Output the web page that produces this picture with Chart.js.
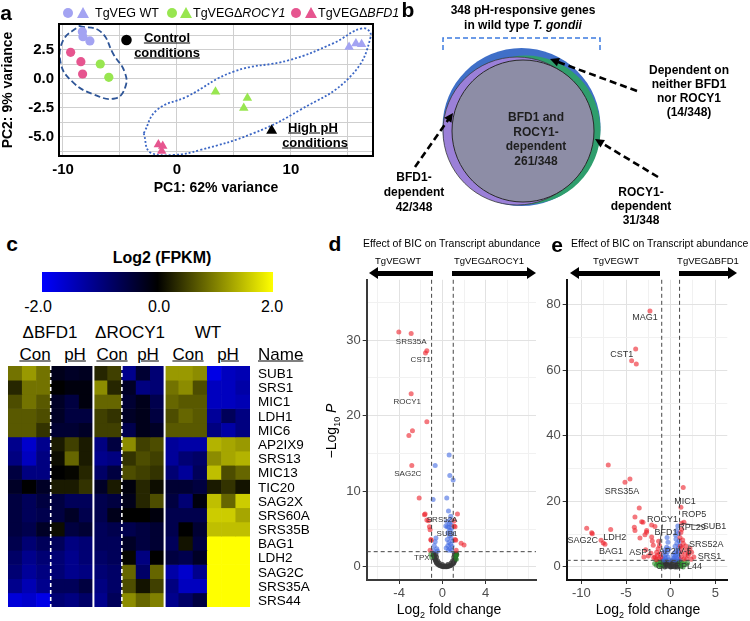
<!DOCTYPE html>
<html>
<head>
<meta charset="utf-8">
<script src="https://cdn.jsdelivr.net/npm/chart.js@4.4.1/dist/chart.umd.min.js"></script>
<style>
body{margin:0;background:#fff;font-family:"Liberation Sans",Arial,sans-serif;}
#page{position:relative;width:750px;height:621px;overflow:hidden;}
canvas{position:absolute;}
.t{position:absolute;white-space:nowrap;line-height:1;transform:translate(-50%,-50%);color:#000;}
.l{transform:translate(0,-50%);}
.b{font-weight:bold;}
.u{text-decoration:underline;}
</style>
</head>
<body>
<div id="page">
  <canvas id="pca" width="380" height="200" style="left:0;top:0"></canvas>
  <canvas id="venn" width="370" height="230" style="left:380px;top:0"></canvas>
  <canvas id="heat" width="242" height="241" style="left:8px;top:366px"></canvas>
  <canvas id="volD" width="240" height="351" style="left:300px;top:270px"></canvas>
  <canvas id="volE" width="230" height="351" style="left:520px;top:270px"></canvas>
</div>
<script>
// ---------- DATA ----------
// a: PCA
const pcaWTcon   = [[-8.3,4.08],[-8.25,3.65],[-7.64,3.28]];
const pcaWTph    = [[15.1,2.75],[15.7,3.05],[16.2,3.0]];
const pcaROCYcon = [[-6.73,1.29],[-5.98,0.14]];
const pcaROCYph  = [[3.38,-1.1],[6.18,-1.65],[5.86,-2.5]];
const pcaBFDcon  = [[-9.33,2.3],[-8.43,1.49],[-8.28,0.43]];
const pcaBFDph   = [[-1.63,-5.65],[-1.25,-5.78],[-1.34,-6.2]];
const pcaKeyCon  = [[-4.43,3.36]];
const pcaKeyPh   = [[8.31,-4.45]];
const ctrlOutline = [[-8.6,4.57],[-6.7,4.08],[-5.54,2.07],[-4.6,0.63],[-4.52,-0.66],[-5.39,-1.67],[-7.4,-1.3],[-9.18,-0.23],[-10.2,1.35],[-10.0,3.3],[-8.6,4.57]];
const phOutline   = [[-2.92,-4.68],[-1.75,-2.67],[0.87,-1.52],[4.96,0.63],[9.91,1.64],[13.7,3.07],[16.3,4.37],[17.0,3.65],[15.2,0.2],[10.8,-2.67],[6.7,-4.68],[2.04,-6.12],[-0.29,-6.55],[-2.33,-6.35],[-2.92,-4.68]];
const pcaXGrid  = [-10,-5,0,5,10,15];
const pcaXTicks = [-10,0,10];
const pcaYGrid  = [-6.25,-5,-3.75,-2.5,-1.25,0,1.25,2.5,3.75];
const pcaYTicks = [-5,-2.5,0,2.5];

// b: Venn
const vennNames  = ['BFD1 and ROCY1-dependent','BFD1-dependent','ROCY1-dependent','Dependent on neither'];
const vennCounts = [261,42,31,14];

// c: heatmap, log2 FPKM (z-scored)
const heatGenes = ['SUB1','SRS1','MIC1','LDH1','MIC6','AP2IX9','SRS13','MIC13','TIC20','SAG2X','SRS60A','SRS35B','BAG1','LDH2','SAG2C','SRS35A','SRS44'];
const heatCols  = ['B-C1','B-C2','B-C3','B-P1','B-P2','B-P3','R-C1','R-C2','R-P1','R-P2','R-P3','W-C1','W-C2','W-C3','W-P1','W-P2','W-P3'];
const heatValues = [
 [0.9,1.2,0.9,-0.2,-0.3,-0.25,0.3,0.5,-1.1,-0.4,-0.9,1.2,1.2,1.1,-1.8,-1.5,-1.4],
 [0.3,0.9,0.9,0,-0.1,-0.1,1.1,0.3,-0.3,-1.0,-0.9,0.9,1.1,0.6,-1.5,-1.5,-1.3],
 [0.6,0.9,0.7,-0.3,-0.5,-0.1,0.8,0.8,-0.4,-0.2,-0.6,0.8,0.7,0.7,-1.5,-1.5,-1.4],
 [0.7,0.7,0.6,-0.3,-0.5,-0.5,0.5,0.4,-0.3,-0.2,-0.5,0.6,0.8,0.7,-1.2,-0.7,-1.0],
 [0.7,0.7,0.4,-0.4,-0.4,-0.3,0.5,0.5,-0.6,-0.2,-0.3,0.7,0.7,0.7,-1.0,-1.3,-1.0],
 [-1.1,-1.6,-1.1,0.2,0.5,0.2,-1.0,-0.5,1.1,0.5,0.6,-1.2,-1.3,-1.3,1.4,1.3,1.2],
 [-1.0,-1.5,-1.0,0.1,0.8,0.2,-1.1,-1.0,0.4,0.6,0.5,-1.2,-0.9,-0.8,1.1,1.3,1.4],
 [-0.5,-1.0,-1.0,0,0.05,0.3,-0.8,-0.5,0.6,0.5,0.4,-0.9,-1.2,-0.7,1.5,0.6,0.8],
 [-0.3,0,-0.3,0.2,0.2,0.4,-0.3,0.2,-0.1,0.3,0.1,-0.4,-0.4,-0.5,0.2,0.4,0.15],
 [-0.5,-0.7,-0.5,-0.5,-0.7,-0.7,-0.6,-0.5,-0.2,0.3,0.6,-0.5,-0.9,-0.1,1.5,0.8,1.6],
 [-0.5,-0.7,-0.6,-0.5,-0.3,-0.6,-0.6,-0.2,0,0,-0.1,-0.6,-0.6,-0.6,1.6,1.6,1.3],
 [-0.5,-0.6,-0.3,0.1,-0.5,-0.4,-0.7,-0.6,-0.6,-0.5,-0.4,-0.6,0,-0.4,1.5,1.5,1.5],
 [-0.6,-0.9,-0.7,-0.7,-1.0,-0.9,-0.7,-0.7,-0.3,-0.5,-0.4,-0.7,0.15,-0.5,2,2,2],
 [-0.8,-1.1,-0.9,-0.9,-1.1,-0.9,-0.8,-0.7,0.05,-1.0,0,-0.5,-0.6,-0.3,2,2,2],
 [-0.9,-1.2,-1.0,-0.9,-1.1,-1.0,-0.9,-0.8,0.8,-0.8,0.8,-1.3,-1.6,-1.1,2,2,2],
 [-1.1,-1.4,-1.1,-0.7,-0.7,-0.5,-1.0,-0.8,0.6,0.15,0.5,-1.0,-1.5,-1.5,2,2,2],
 [-1.7,-1.6,-1.8,-0.9,-1.0,-0.8,-1.1,-0.7,1.1,0.8,1.0,-1.1,-0.8,-0.5,2,2,2]
];

// d: volcano WT vs dROCY1  [log2FC, -log10 P]
const dRed = [[-4.03,31.1],[-2.89,30.9],[-1.57,28.3],[-1.44,28.6],[-2.89,22.9],[-1.44,19.2],[-2.77,18.0],[-3.1,17.4],[-2.83,13.4],[-2.15,9.1],[-1.6,7.0],[-1.66,6.9],[-1.29,6.1],[-1.44,6.2],[-1.2,5.3],[-1.14,4.9],[-1.04,3.5],[-1.07,3.6],[1.39,7.0],[1.08,6.1],[1.17,5.3],[1.08,5.4],[1.23,3.5],[1.17,3.6],[1.73,3.1],[2.0,2.9],[1.27,2.2],[-1.14,2.2]];
const dBlue = [[0.62,14.8],[-0.67,13.4],[0.68,12.1],[0.99,11.5],[-0.86,8.9],[0.4,9.1],[0.56,7.4],[0.77,6.7],[0.72,6.2],[0.4,6.0],[0.65,5.7],[0.8,5.6],[0.31,5.4],[0.45,5.3],[0.6,5.2],[0.85,5.1],[0.7,4.8],[0.5,4.5],[0.9,4.4],[0.65,4.1],[0.8,3.8],[0.45,3.6],[0.95,3.4],[0.6,3.2],[0.75,3.0],[0.5,2.8],[0.9,2.7],[0.35,2.5],[0.7,2.4],[0.55,2.2],[0.85,2.15],[-0.67,3.3],[-0.6,3.8],[-0.52,2.4],[-0.75,2.8],[-0.45,2.1],[-0.85,2.2]];
const dGreen = [[-1.07,1.7],[1.33,1.6],[1.3,1.0],[-1.0,1.3],[1.2,1.4]];
const dGray = [[0.25,0.0],[0.0,0.05],[0.5,0.05],[-0.2,0.15],[0.7,0.15],[-0.4,0.3],[0.9,0.3],[-0.55,0.55],[1.05,0.55],[-0.65,0.85],[1.15,0.85],[-0.72,1.2],[1.2,1.2],[-0.78,1.5],[1.25,1.5],[-0.8,1.8],[1.28,1.8],[0.1,0.02],[0.4,0.02],[-0.3,0.2],[0.8,0.2],[-0.5,0.45],[1.0,0.45],[-0.6,0.7],[1.1,0.7],[-0.68,1.0],[1.18,1.0],[-0.75,1.35],[1.22,1.35],[-0.82,1.65],[1.3,1.65],[0.15,0.1],[0.35,0.1],[-0.1,0.1],[0.6,0.1],[-0.45,0.8],[0.95,0.8],[-0.55,1.3],[1.05,1.3],[-0.6,1.7],[1.1,1.7],[-0.3,0.5],[0.8,0.5],[0.0,0.3],[0.5,0.3]];
const dGenes   = ['SRS35A','CST1','ROCY1','SAG2C','SRS52A','SUB1','TPX1'];
const dGenePts = [[-2.89,30.9],[-1.44,28.6],[-2.89,22.9],[-2.83,13.4],[1.08,6.1],[0.7,4.8],[-1.14,2.2]];
const dXGrid = [-6,-4,-2,0,2,4,6,8],  dXTicks = [-4,0,4];
const dYGrid = [0,5,10,15,20,25,30,35], dYTicks = [0,10,20,30];

// e: volcano WT vs dBFD1
const eRed = [[-2.32,78.1],[-3.92,66.5],[-4.37,62.9],[-3.85,61.9],[-6.99,31.1],[-4.56,26.8],[-5.12,25.8],[1.41,24.2],[-3.52,18.0],[1.15,18.2],[-4.0,15.2],[-3.25,13.8],[-4.07,12.1],[-4.0,11.1],[-2.69,11.1],[-2.13,12.8],[-1.76,12.3],[-2.88,9.8],[-3.44,8.8],[-2.13,9.1],[-2.06,7.9],[-9.41,11.8],[-8.85,10.4],[-8.78,10.1],[-6.72,11.4],[-7.8,8.1],[-7.55,7.3],[-7.36,6.9],[1.23,13.3],[1.49,13.6],[1.79,5.1],[2.16,5.6],[2.35,4.5],[1.97,3.5],[1.41,7.1],[1.23,4.5],[1.79,2.5],[-1.95,6.6],[-1.57,4.5],[-1.76,3.0],[-1.3,2.5],[-1.5,3.5],[-1.2,4.0],[-1.9,2.8],[-1.4,5.5],[-2.2,4.2],[-1.1,3.0],[-1.6,2.2],[-2.5,3.3],[-1.25,6.5],[-2.8,5.2],[-3.0,3.0],[-1.35,7.8],[-3.1,13.6],[-2.7,10.6],[1.2,3.0],[1.5,2.4],[1.6,3.8],[1.3,5.8],[2.0,4.2],[1.1,6.3],[1.7,6.4],[2.6,3.0],[2.3,2.3],[1.15,10.5],[1.05,9.0],[1.25,11.5],[1.35,8.2]];
const eBlue = [[0.67,11.1],[0.56,9.7],[0.8,12.5],[0.9,10.2],[0.6,8.5],[0.95,8.0],[0.7,7.2],[1.0,6.5],[0.5,6.3],[0.85,5.7],[0.65,5.0],[0.95,4.6],[0.45,4.3],[0.75,4.0],[0.55,3.5],[0.9,3.2],[0.4,2.8],[0.7,2.6],[1.0,2.3],[0.5,2.1],[-0.3,7.5],[-0.45,6.0],[-0.6,5.2],[-0.35,4.6],[-0.8,4.4],[-0.5,3.8],[-0.7,3.2],[-0.3,3.0],[-0.9,2.8],[-0.55,2.5],[-0.2,2.2],[-0.8,2.1],[-0.4,9.0],[-0.2,5.5],[0.3,3.6],[0.25,2.4]];
const eGreen = [[-1.2,0.8],[-1.4,1.2],[-1.1,1.6],[-1.6,0.5],[-1.3,0.3],[-1.05,0.1],[-1.8,1.0],[1.1,0.5],[1.3,1.1],[1.5,1.6],[1.2,0.2],[1.7,0.7],[1.05,1.4],[1.9,1.2],[-1.5,1.8],[1.4,0.0]];
const eGray = [[-0.9,1.8],[-0.7,1.2],[-0.5,0.6],[-0.3,0.2],[0,0],[0.3,0.1],[0.6,0.5],[0.8,1.1],[0.95,1.7],[-0.8,0.4],[-0.6,1.6],[-0.4,1.0],[-0.2,0.5],[0.1,0.3],[0.2,0.8],[0.4,1.3],[0.6,1.8],[0.9,0.3],[-0.95,0.9],[0.75,0.0],[-0.1,1.5],[0.15,1.9],[-0.5,1.9],[0.5,0.0],[-0.65,0.0]];
const eGenes   = ['MAG1','CST1','SRS35A','MIC1','ROP5','ROCY1','SUB1','RPL29','BFD1','SAG2C','LDH2','BAG1','ASP1','AP2IV-5','SRS52A','SRS1','GT1','RPL44'];
const eGenePts = [[-2.32,78.1],[-4.37,62.9],[-4.56,26.8],[1.15,18.2],[1.49,13.6],[-1.25,6.5],[1.23,13.3],[1.15,10.5],[-0.3,7.5],[-9.41,11.8],[-6.72,11.4],[-7.36,6.9],[-2.8,5.2],[0.3,3.6],[1.97,3.5],[2.35,4.5],[-0.65,0.0],[1.4,0.0]];
const eXGrid = [-10,-7.5,-5,-2.5,0,2.5,5], eXTicks = [-10,-5,0,5];
const eYGrid = [0,10,20,30,40,50,60,70,80], eYTicks = [0,20,40,60,80];
const fcCut = 1, pCut = 2;

// ---------- LAYOUT (pixel offsets for gene labels, not data) ----------
const dLabelOff = [[0,8,0],[-6,9,0],[-4,8,0],[-4,8,0],[-12,-1,0],[-3,3,0],[-6,8,0]];
const eLabelOff = [[-5,7,0],[-10,-6,0],[-8,12,0],[4,-6,0],[10,-8,0],[3,-26,1],[33,3,1],[11,-5,0],[-2,-10,0],[-4,12,0],[4,8,0],[6,7,0],[-5,3,0],[2,-4,0],[18,-11,1],[18,4,0],[0,0,0],[5,0,0]];

const page = document.getElementById('page');
const FONT = '"Liberation Sans", Arial, sans-serif';
Chart.defaults.font.family = FONT;

function put(html, x, y, css, cls){
  const d = document.createElement('div');
  d.className = 't ' + (cls || '');
  d.innerHTML = html;
  d.style.left = x + 'px'; d.style.top = y + 'px';
  d.style.cssText += css || '';
  page.appendChild(d);
  return d;
}
const xy = a => a.map(p => ({x:p[0], y:p[1]}));

// ---------- a: PCA ----------
function pcaPts(arr, color, style, r){
  return {data:xy(arr), backgroundColor:color, borderWidth:0, pointStyle:style, pointRadius:r};
}
function outline(arr, color, dash){
  return {data:xy(arr), showLine:true, borderColor:color, borderWidth:1.8, borderDash:dash,
          tension:0.45, pointRadius:0, fill:false, clip:false};
}
const boxPlugin = {id:'box', afterDraw(ch){
  const a = ch.chartArea, c = ch.ctx;
  c.save(); c.strokeStyle = '#000'; c.lineWidth = 2;
  c.strokeRect(a.left, a.top, a.right - a.left, a.bottom - a.top); c.restore();
}};
new Chart(document.getElementById('pca'), {
  type:'scatter',
  data:{datasets:[
    pcaPts(pcaWTcon,'#a3a3f2','circle',4.6), pcaPts(pcaWTph,'#a3a3f2','triangle',5.5),
    pcaPts(pcaROCYcon,'#98e650','circle',4.6), pcaPts(pcaROCYph,'#98e650','triangle',5.5),
    pcaPts(pcaBFDcon,'#e6558f','circle',4.6), pcaPts(pcaBFDph,'#e6558f','triangle',5.5),
    pcaPts(pcaKeyCon,'#000','circle',5.3), pcaPts(pcaKeyPh,'#000','triangle',6.3),
    outline(ctrlOutline,'#2e5597',[6,3]), outline(phOutline,'#3b66c4',[2,2])
  ]},
  options:{responsive:false, animation:false, events:[],
    layout:{padding:{top:24, right:7, left:0, bottom:0}},
    plugins:{legend:{display:false}, tooltip:{enabled:false}},
    scales:{
      x:{type:'linear', min:-10.35, max:17.2,
        afterBuildTicks:s=>{s.ticks = pcaXGrid.map(v=>({value:v}));},
        afterFit:s=>{s.height = 44;},
        ticks:{autoSkip:false, maxRotation:0, padding:5, color:'#000', font:{size:15, weight:'bold'},
               callback:v=>pcaXTicks.includes(v) ? String(v) : ''},
        grid:{color:'#cfcfcf', drawTicks:false}, border:{display:false},
        title:{display:true, text:'PC1: 62% variance', color:'#000', font:{size:14, weight:'bold'}, padding:{top:0, bottom:3}}},
      y:{type:'linear', min:-6.64, max:4.74,
        afterBuildTicks:s=>{s.ticks = pcaYGrid.map(v=>({value:v}));},
        afterFit:s=>{s.width = 59;},
        ticks:{autoSkip:false, padding:5, color:'#000', font:{size:15, weight:'bold'},
               callback:v=>pcaYTicks.includes(v) ? v.toFixed(1) : ''},
        grid:{color:'#cfcfcf', drawTicks:false}, border:{display:false},
        title:{display:true, text:'PC2: 9% variance', color:'#000', font:{size:14, weight:'bold'}, padding:{top:0, bottom:0}}}
    }},
  plugins:[boxPlugin]
});

// legend + labels for a
put('a', 6, 12, 'font-size:21px', 'b');
function marker(x, y, color, tri){
  const d = document.createElement('div');
  d.style.position = 'absolute';
  if (tri){
    d.style.cssText += `left:${x-6}px;top:${y-6}px;width:0;height:0;border-left:6px solid transparent;border-right:6px solid transparent;border-bottom:11px solid ${color};`;
  } else {
    d.style.cssText += `left:${x-5.3}px;top:${y-5.3}px;width:10.6px;height:10.6px;border-radius:50%;background:${color};`;
  }
  page.appendChild(d);
}
marker(68,13,'#a3a3f2'); marker(83,13,'#a3a3f2',1); put('TgVEG WT', 95, 13, 'font-size:12.5px', 'l');
marker(172,13,'#98e650'); marker(186,13,'#98e650',1); put('TgVEGΔ<i>ROCY1</i>', 193, 13, 'font-size:12.5px', 'l');
marker(296,13,'#e6558f'); marker(311,13,'#e6558f',1); put('TgVEGΔ<i>BFD1</i>', 318, 13, 'font-size:12.5px', 'l');
put('Control', 167, 37, 'font-size:13px', 'b u'); put('conditions', 167, 52, 'font-size:13px', 'b u');
put('High pH', 313, 127, 'font-size:13px', 'b u'); put('conditions', 315, 142, 'font-size:13px', 'b u');

// ---------- b: Venn ----------
const vennGeom = [ // canvas px: gray (both), purple (BFD1), green (ROCY1), blue (neither)
  {x:143, y:131, r:71, c:'#8d8da6', bc:'#2a2a2a', bw:1},
  {x:137, y:131, r:74, c:'#9b80d8', bc:'#3a3a3a', bw:0.8},
  {x:146, y:130, r:74.5, c:'#2f9e6d', bc:'#2f9e6d', bw:0},
  {x:141.5, y:127, r:79, c:'#3f6fc8', bc:'#3f6fc8', bw:0}
];
function arrow(c, x1, y1, x2, y2){
  const ang = Math.atan2(y2-y1, x2-x1), h = 10;
  c.setLineDash([7,4]); c.lineWidth = 2.6; c.strokeStyle = '#000';
  c.beginPath(); c.moveTo(x1,y1); c.lineTo(x2 - Math.cos(ang)*h*0.8, y2 - Math.sin(ang)*h*0.8); c.stroke();
  c.setLineDash([]); c.fillStyle = '#000';
  c.beginPath(); c.moveTo(x2,y2);
  c.lineTo(x2 - h*Math.cos(ang-0.45), y2 - h*Math.sin(ang-0.45));
  c.lineTo(x2 - h*Math.cos(ang+0.45), y2 - h*Math.sin(ang+0.45));
  c.closePath(); c.fill();
}
const vennExtras = {id:'vennExtras', afterDatasetsDraw(ch){
  const c = ch.ctx, X = v=>ch.scales.x.getPixelForValue(v), Y = v=>ch.scales.y.getPixelForValue(v);
  c.save();
  c.strokeStyle = '#3c7be0'; c.lineWidth = 1.5; c.setLineDash([5,3]);
  c.beginPath(); c.moveTo(X(63),Y(50)); c.lineTo(X(63),Y(38)); c.lineTo(X(220),Y(38)); c.lineTo(X(220),Y(50)); c.stroke();
  arrow(c, X(257),Y(91), X(170),Y(59));
  arrow(c, X(35),Y(167), X(73),Y(113));
  arrow(c, X(278),Y(177), X(215),Y(139));
  c.restore();
}};
new Chart(document.getElementById('venn'), {
  type:'bubble',
  data:{datasets:vennGeom.map((g,i)=>({label:vennNames[i], data:[{x:g.x, y:g.y, r:g.r, n:vennCounts[i]}],
        backgroundColor:g.c, borderColor:g.bc, borderWidth:g.bw, order:i, clip:false}))},
  options:{responsive:false, animation:false, events:[], layout:{padding:0, autoPadding:false},
    plugins:{legend:{display:false}, tooltip:{enabled:false}},
    scales:{x:{display:false, min:0, max:370}, y:{display:false, min:0, max:230, reverse:true}}},
  plugins:[vennExtras]
});
put('b', 408, 9, 'font-size:21px', 'b');
put('348 pH-responsive genes', 523, 10, 'font-size:12px', 'b');
put('in wild type <i>T. gondii</i>', 523, 25, 'font-size:12px', 'b');
['BFD1 and','ROCY1-','dependent',vennCounts[0]+'/348'].forEach((s,i)=>put(s, 536, 117+i*14.7, 'font-size:12px;color:#1e1e1e', 'b'));
['Dependent on','neither BFD1','nor ROCY1','('+vennCounts[3]+'/348)'].forEach((s,i)=>put(s, 689, 70+i*14, 'font-size:12px', 'b'));
['BFD1-','dependent',vennCounts[1]+'/348'].forEach((s,i)=>put(s, 414, 177+i*15, 'font-size:12px', 'b'));
['ROCY1-','dependent',vennCounts[2]+'/348'].forEach((s,i)=>put(s, 641, 192+i*14, 'font-size:12px', 'b'));

// ---------- c: heatmap ----------
function heatColor(v){
  const t = Math.max(-2, Math.min(2, v)) / 2;
  return t < 0 ? `rgb(0,0,${Math.round(-t*255)})` : `rgb(${Math.round(t*255)},${Math.round(t*255)},0)`;
}
const heatSep = {id:'heatSep', afterDatasetsDraw(ch){
  const c = ch.ctx, x = ch.scales.x, a = ch.chartArea;
  const edge = b => (x.getPixelForValue(b-1) + x.getPixelForValue(b)) / 2;
  c.save(); c.strokeStyle = '#fff';
  c.lineWidth = 2; [6,11].forEach(b=>{c.beginPath(); c.moveTo(edge(b),a.top); c.lineTo(edge(b),a.bottom); c.stroke();});
  c.lineWidth = 1.6; c.setLineDash([4,3]);
  [3,8].forEach(b=>{c.beginPath(); c.moveTo(edge(b),a.top); c.lineTo(edge(b),a.bottom); c.stroke();});
  c.restore();
}};
new Chart(document.getElementById('heat'), {
  type:'bar',
  data:{labels:heatCols, datasets:heatValues.map((row,i)=>({label:heatGenes[i], data:row.map(()=>1),
        backgroundColor:row.map(heatColor), borderWidth:0, barPercentage:1, categoryPercentage:1}))},
  options:{responsive:false, animation:false, events:[], layout:{padding:0},
    plugins:{legend:{display:false}, tooltip:{enabled:false}},
    scales:{x:{display:false, stacked:true}, y:{display:false, stacked:true, min:0, max:heatGenes.length, reverse:true}}},
  plugins:[heatSep]
});
put('c', 12, 243, 'font-size:21px', 'b');
put('Log2 (FPKM)', 162, 258, 'font-size:16px', 'b');
const bar = document.createElement('div');
bar.style.cssText = 'position:absolute;left:42px;top:272px;width:231px;height:20px;background:linear-gradient(to right,#0000ff,#000 50%,#ffff00);';
page.appendChild(bar);
put('-2.0', 38, 307, 'font-size:16px'); put('0.0', 159, 307, 'font-size:16px'); put('2.0', 272, 307, 'font-size:16px');
put('ΔBFD1', 50, 332, 'font-size:17px'); put('ΔROCY1', 130, 332, 'font-size:17px'); put('WT', 208, 332, 'font-size:17px');
[['Con',35],['pH',75],['Con',112],['pH',148],['Con',188],['pH',228]].forEach(p=>put(p[0], p[1], 354, 'font-size:17px', 'u'));
put('Name', 258, 354, 'font-size:17px', 'l u');
heatGenes.forEach((g,i)=>put(g, 258, 366 + 241/heatGenes.length*(i+0.5) + 1, 'font-size:13.5px', 'l'));

// ---------- d, e: volcano ----------
const volColors = {red:'rgba(236,30,40,0.6)', blue:'rgba(65,105,225,0.6)', green:'rgba(34,139,34,0.6)', gray:'rgba(55,55,55,0.8)'};
function volAxis(min, max, grid, labeled, dir, size, bc){
  const isLab = c => c.tick && labeled.includes(c.tick.value);
  return {type:'linear', min, max,
    afterBuildTicks:s=>{s.ticks = grid.map(v=>({value:v}));},
    afterFit:s=>{ if (dir === 'x') s.height = size; else s.width = size; },
    ticks:{autoSkip:false, maxRotation:0, padding:2, color:'#4d4d4d', font:{size:13},
           callback:v=>labeled.includes(v) ? String(v) : ''},
    grid:{color:c=>isLab(c) ? '#e2e2e2' : '#f1f1f1', lineWidth:1, tickLength:4,
          tickColor:c=>isLab(c) ? '#333' : 'rgba(0,0,0,0)'},
    border:{display:true, color:bc, width:2}};
}
const cutoffPlugin = {id:'cutoffs', afterDatasetsDraw(ch){
  const c = ch.ctx, x = ch.scales.x, y = ch.scales.y, a = ch.chartArea;
  c.save(); c.strokeStyle = '#444'; c.lineWidth = 1; c.setLineDash([4,3]);
  [-fcCut, fcCut].forEach(v=>{c.beginPath(); c.moveTo(x.getPixelForValue(v), a.top); c.lineTo(x.getPixelForValue(v), a.bottom); c.stroke();});
  c.beginPath(); c.moveTo(a.left, y.getPixelForValue(pCut)); c.lineTo(a.right, y.getPixelForValue(pCut)); c.stroke();
  c.restore();
}};
function genePlugin(genes, pts, offs, size){
  return {id:'genes', afterDatasetsDraw(ch){
    const c = ch.ctx, x = ch.scales.x, y = ch.scales.y;
    c.save(); c.font = size + 'px ' + FONT; c.fillStyle = '#333'; c.strokeStyle = '#333'; c.lineWidth = 0.8;
    c.textAlign = 'center'; c.textBaseline = 'middle';
    genes.forEach((g,i)=>{
      const px = x.getPixelForValue(pts[i][0]), py = y.getPixelForValue(pts[i][1]);
      const lx = px + offs[i][0], ly = py + offs[i][1];
      if (offs[i][2]){
        const w = c.measureText(g).width / 2;
        const ex = lx - Math.sign(offs[i][0]) * (Math.abs(offs[i][0]) > w ? w : 0);
        c.beginPath(); c.moveTo(px, py); c.lineTo(ex, ly + (offs[i][1] < -15 ? 5 : 0)); c.stroke();
      }
      c.fillText(g, lx, ly);
    });
    c.restore();
  }};
}
function volcano(id, sets, ax, genes, pts, offs, labelSize){
  const order = {red:1, blue:2, green:3, gray:4};
  return new Chart(document.getElementById(id), {
    type:'scatter',
    data:{datasets:Object.keys(sets).map(k=>({data:xy(sets[k]), backgroundColor:volColors[k],
          pointRadius:2.5, borderWidth:0, order:order[k]}))},
    options:{responsive:false, animation:false, events:[],
      layout:{padding:{top:ax.top, right:ax.right, left:0, bottom:0}},
      plugins:{legend:{display:false}, tooltip:{enabled:false}},
      scales:{x:volAxis(ax.xMin, ax.xMax, ax.xGrid, ax.xTicks, 'x', 41, ax.bc),
              y:volAxis(ax.yMin, ax.yMax, ax.yGrid, ax.yTicks, 'y', ax.left, ax.bc)}},
    plugins:[cutoffPlugin, genePlugin(genes, pts, offs, labelSize)]
  });
}
volcano('volD', {gray:dGray, green:dGreen, blue:dBlue, red:dRed},
  {xMin:-7, xMax:8.65, yMin:-1.75, yMax:38, xGrid:dXGrid, xTicks:dXTicks, yGrid:dYGrid, yTicks:dYTicks,
   top:8, right:4, left:66.7, bc:'#3a3a3a'}, dGenes, dGenePts, dLabelOff, 8);
volcano('volE', {gray:eGray, green:eGreen, blue:eBlue, red:eRed},
  {xMin:-11.65, xMax:6.35, yMin:-4, yMax:87.6, xGrid:eXGrid, xTicks:eXTicks, yGrid:eYGrid, yTicks:eYTicks,
   top:8.3, right:22.7, left:46.7, bc:'#111'}, eGenes, eGenePts, eLabelOff, 9);

function headArrow(x1, x2, y, left){
  const d = document.createElement('div');
  const head = 9, w = x2 - x1 - head;
  d.style.cssText = `position:absolute;top:${y-2.5}px;height:5px;background:#000;left:${left ? x1+head : x1}px;width:${w}px;`;
  page.appendChild(d);
  const h = document.createElement('div');
  h.style.cssText = `position:absolute;top:${y-6.5}px;width:0;height:0;border-top:6.5px solid transparent;border-bottom:6.5px solid transparent;` +
    (left ? `left:${x1}px;border-right:${head}px solid #000;` : `left:${x2-head}px;border-left:${head}px solid #000;`);
  page.appendChild(h);
}
put('d', 335, 243, 'font-size:21px', 'b');
put('Effect of BIC on Transcript abundance', 363, 243, 'font-size:10.5px', 'l');
put('TgVEGWT', 398, 261, 'font-size:9.5px'); put('TgVEGΔROCY1', 489, 261, 'font-size:9.5px');
headArrow(369, 433, 273, true); headArrow(452, 536, 273, false);
put('e', 557, 244, 'font-size:21px', 'b');
put('Effect of BIC on Transcript abundance', 571, 243, 'font-size:10.5px', 'l');
put('TgVEGWT', 616, 261, 'font-size:9.5px'); put('TgVEGΔBFD1', 708, 261, 'font-size:9.5px');
headArrow(570, 660, 273, true); headArrow(679, 737, 273, false);
put('−Log<sub style="font-size:9px">10</sub> <i>P</i>', 333, 431, 'font-size:14px;transform:translate(-50%,-50%) rotate(-90deg)');
put('Log<sub style="font-size:9px">2</sub> fold change', 449, 611, 'font-size:14px');
put('Log<sub style="font-size:9px">2</sub> fold change', 648, 611, 'font-size:14px');
</script>
</body>
</html>
